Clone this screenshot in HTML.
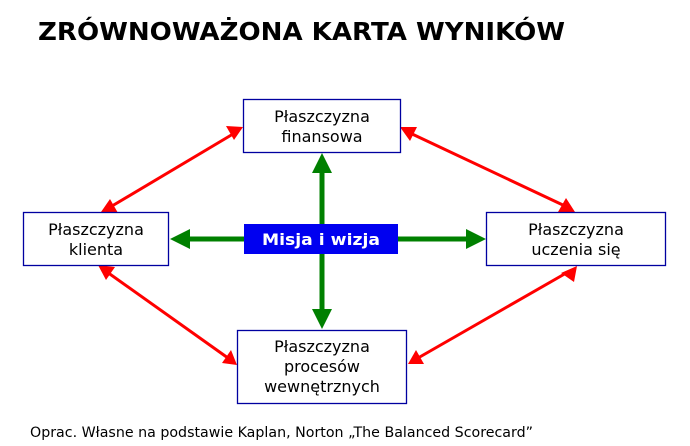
<!DOCTYPE html>
<html><head><meta charset="utf-8"><style>
html,body{margin:0;padding:0;background:#fff;}
svg{display:block;font-family:"DejaVu Sans","Liberation Sans",sans-serif;}
</style></head><body>
<svg width="690" height="446" viewBox="0 0 690 446" xmlns="http://www.w3.org/2000/svg">
<text x="38" y="40" font-size="25" font-weight="bold" textLength="527" lengthAdjust="spacingAndGlyphs">ZRÓWNOWAŻONA KARTA WYNIKÓW</text>
<!-- red arrows -->
<g stroke="#f00" stroke-width="3">
<line x1="112" y1="206" x2="233" y2="134"/>
<line x1="410" y1="133" x2="565" y2="206"/>
<line x1="107" y1="272" x2="228" y2="358"/>
<line x1="418" y1="358" x2="568" y2="272"/>
</g>
<g fill="#f00">
<polygon points="243,127 226,126 234,140"/>
<polygon points="101,212 110,199 118,213"/>
<polygon points="400,127 417,127 410,141"/>
<polygon points="575,212 558,212 566,198"/>
<polygon points="98,265 115,267 106,280"/>
<polygon points="237,365 222,363 231,350"/>
<polygon points="408,364 416,350 424,364"/>
<polygon points="577,266 574,282 561,273"/>
</g>
<!-- green arrows -->
<g stroke="#008000" stroke-width="5">
<line x1="322" y1="170" x2="322" y2="312"/>
<line x1="188" y1="239" x2="400" y2="239"/>
<line x1="398" y1="239" x2="468" y2="239"/>
</g>
<g fill="#008000">
<polygon points="322,153 312,173 332,173"/>
<polygon points="322,329 312,309 332,309"/>
<polygon points="170,239 190,229 190,249"/>
<polygon points="486,239 466,229 466,249"/>
</g>
<!-- boxes -->
<g fill="#fff" stroke="#0000a0" stroke-width="1.3">
<rect x="243.5" y="99.5" width="157" height="53"/>
<rect x="23.5" y="212.5" width="145" height="53"/>
<rect x="486.5" y="212.5" width="179" height="53"/>
<rect x="237.5" y="330.5" width="169" height="73"/>
</g>
<rect x="244" y="224" width="154" height="30" fill="#0000f0"/>
<g font-size="16" text-anchor="middle" fill="#000">
<text x="322" y="122">Płaszczyzna</text>
<text x="322" y="142">finansowa</text>
<text x="96" y="235">Płaszczyzna</text>
<text x="96" y="255">klienta</text>
<text x="576" y="235">Płaszczyzna</text>
<text x="576" y="255">uczenia się</text>
<text x="322" y="352">Płaszczyzna</text>
<text x="322" y="372">procesów</text>
<text x="322" y="392">wewnętrznych</text>
</g>
<text x="321" y="245" font-size="16" font-weight="bold" fill="#fff" text-anchor="middle" textLength="118" lengthAdjust="spacingAndGlyphs">Misja i wizja</text>
<text x="30" y="437" font-size="14" fill="#000" textLength="503" lengthAdjust="spacingAndGlyphs">Oprac. Własne na podstawie Kaplan, Norton „The Balanced Scorecard”</text>
</svg>
</body></html>
